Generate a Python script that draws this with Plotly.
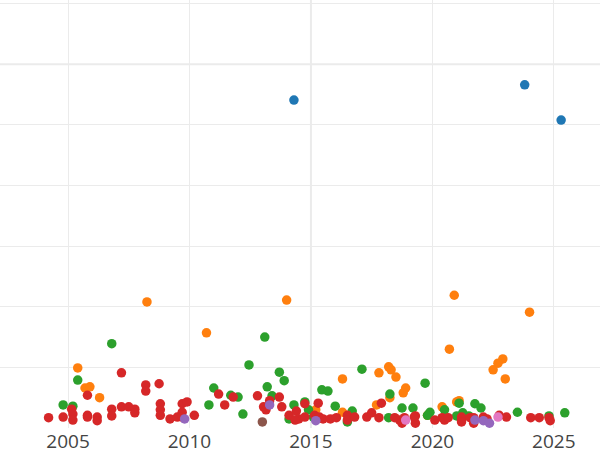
import plotly.graph_objects as go

# Series data: (year, value)
blue_year = [2014.3, 2023.8, 2025.3]
blue_value = [541, 566, 508]

orange_year = [2008.25, 2014.0, 2010.7, 2020.9, 2024.0, 2020.7, 2005.4, 2005.7, 2005.9, 2006.3,
               2016.3, 2017.8, 2018.2, 2018.3, 2018.5, 2018.9, 2018.8, 2021.0, 2021.1, 2020.4,
               2019.8, 2022.9, 2022.7, 2022.5, 2023.0, 2015.2, 2016.3, 2017.7, 2018.25]
orange_value = [208, 211, 157, 219, 191, 130, 99, 66, 68, 50,
                81, 91, 101, 96, 84, 66, 58, 43, 45, 35,
                21, 114, 107, 96, 81, 30, 26, 38, 50]

green_year = [2006.8, 2005.4, 2004.8, 2005.2, 2011.0, 2010.8, 2013.1, 2012.45, 2013.7, 2013.9,
              2013.2, 2013.4, 2012.0, 2011.7, 2012.2, 2014.3, 2014.75, 2014.9, 2015.45, 2015.7,
              2017.1, 2016.0, 2016.7, 2018.2, 2018.25, 2014.1, 2015.1, 2016.5, 2019.7, 2018.75,
              2019.2, 2019.9, 2019.8, 2020.5, 2021.1, 2021.0, 2021.5, 2021.75, 2022.0, 2023.5,
              2024.8, 2025.45, 2021.25]
green_value = [139, 79, 38, 36, 66, 38, 150, 104, 92, 78,
               68, 53, 51, 54, 23, 38, 43, 30, 63, 61,
               97, 36, 28, 17, 56, 15, 18, 10, 74, 33,
               33, 26, 21, 30, 41, 20, 20, 40, 33, 26,
               20, 25, 25]

red_year = [2004.2, 2004.8, 2005.15, 2005.2, 2005.2, 2005.8, 2005.8, 2005.8, 2006.2, 2006.2,
            2006.8, 2006.8, 2007.2, 2007.2, 2007.5, 2007.75, 2007.75, 2008.2, 2008.2, 2008.75,
            2008.8, 2008.8, 2008.8, 2009.2, 2009.5, 2009.7, 2009.9, 2009.7, 2009.7, 2010.2,
            2011.2, 2011.45, 2011.8, 2012.8, 2013.05, 2013.3, 2013.7, 2013.8, 2013.15, 2014.1,
            2014.4, 2014.75, 2015.3, 2014.5, 2014.75, 2015.15, 2015.35, 2015.5, 2015.8, 2016.05,
            2016.5, 2016.5, 2016.8, 2017.3, 2017.5, 2017.8, 2017.9, 2014.35, 2018.65, 2018.85,
            2019.3, 2019.3, 2018.45, 2020.1, 2020.4, 2020.5, 2020.65, 2021.2, 2021.2, 2021.2,
            2021.55, 2021.7, 2021.7, 2022.1, 2022.25, 2022.75, 2023.05, 2024.05, 2024.4, 2024.8,
            2024.85, 2018.75, 2019.25]
red_value = [17, 18, 31, 23, 13, 54, 21, 18, 18, 12,
             31, 20, 91, 35, 35, 31, 25, 71, 61, 73,
             40, 30, 21, 15, 18, 40, 43, 26, 18, 21,
             56, 38, 51, 53, 35, 45, 51, 35, 30, 21,
             28, 40, 41, 15, 18, 21, 18, 15, 15, 17,
             21, 13, 18, 18, 25, 17, 41, 13, 13, 17,
             20, 8, 17, 13, 17, 13, 17, 13, 18, 10,
             17, 17, 8, 18, 15, 21, 18, 17, 17, 17,
             12, 8, 18]

purple_year = [2009.8, 2013.3, 2015.2, 2021.75, 2022.1, 2022.35]
purple_value = [15, 38, 12, 13, 12, 8]

brown_year = [2013.0]
brown_value = [10]

pink_year = [2018.9, 2022.7]
pink_value = [13, 18]

series = [
    ("A", blue_year, blue_value, "#1f77b4"),
    ("B", orange_year, orange_value, "#ff7f0e"),
    ("C", green_year, green_value, "#2ca02c"),
    ("D", red_year, red_value, "#d62728"),
    ("E", purple_year, purple_value, "#9467bd"),
    ("F", brown_year, brown_value, "#8c564b"),
    ("G", pink_year, pink_value, "#e377c2"),
]

fig = go.Figure()
for name, xs, ys, color in series:
    fig.add_trace(go.Scatter(x=xs, y=ys, mode="markers", name=name,
                             marker=dict(color=color, size=9.5)))

grid = "#ebebeb"
fig.update_layout(
    width=600, height=450,
    margin=dict(l=0, r=0, t=0, b=22, autoexpand=False),
    paper_bgcolor="white", plot_bgcolor="white",
    showlegend=False,
    font=dict(color="#444"),
    shapes=[
        dict(type="line", xref="x", yref="paper", x0=2015, x1=2015, y0=0, y1=1,
             line=dict(color=grid, width=2), layer="below"),
        dict(type="line", xref="paper", yref="y", x0=0, x1=1, y0=600, y1=600,
             line=dict(color=grid, width=2), layer="below"),
    ],
)
fig.update_xaxes(range=[2002.2, 2026.9], dtick=5, tick0=2000, showgrid=True,
                 gridcolor=grid, zeroline=False, showline=False, automargin=False,
                 tickfont=dict(size=19), ticks="")
fig.update_yaxes(range=[0, 706], dtick=100, showgrid=True, gridcolor=grid,
                 zeroline=False, showticklabels=False, showline=False, automargin=False)

fig.write_html("out.html",
               config={"displayModeBar": False},
               post_script="document.body.style.margin='0';document.body.style.overflow='hidden';")
